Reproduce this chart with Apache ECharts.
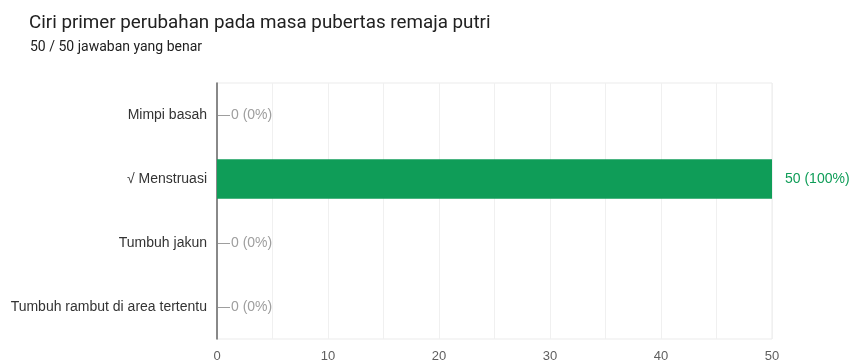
<!DOCTYPE html>
<html>
<head>
<meta charset="utf-8">
<script src="https://cdn.jsdelivr.net/npm/echarts@6/dist/echarts.min.js"></script>
<style>
  html, body { margin: 0; padding: 0; background: #fff; }
  #chart { width: 856px; height: 363px; }
</style>
</head>
<body>
<div id="chart"></div>
<script>
// Answer options and their response counts
const categories = ['Mimpi basah', '\u221A Menstruasi', 'Tumbuh jakun', 'Tumbuh rambut di area tertentu'];
const counts = [0, 50, 0, 0];
const percents = [0, 100, 0, 0];
const totalResponses = 50;
const xTicks = [0, 10, 20, 30, 40, 50];

const GREEN = '#0f9d58';
const TITLE_FONT = 'Roboto, "Liberation Sans", Arial, sans-serif';
const BODY_FONT = '"Liberation Sans", Arial, Helvetica, sans-serif';

const chart = echarts.init(document.getElementById('chart'));

chart.setOption({
  animation: false,
  textStyle: { fontFamily: BODY_FONT },
  title: [
    {
      text: 'Ciri primer perubahan pada masa pubertas remaja putri',
      left: 24, top: 9,
      textStyle: { fontFamily: TITLE_FONT, fontSize: 18.8, fontWeight: 'normal', color: '#212121' }
    },
    {
      text: totalResponses + ' / ' + totalResponses + ' jawaban yang benar',
      left: 25, top: 35,
      textStyle: { fontFamily: TITLE_FONT, fontSize: 14, fontWeight: 'normal', color: '#212121' }
    }
  ],
  grid: {
    left: 217, right: 84, top: 83, bottom: 22,
    show: true, borderColor: '#ebebeb', borderWidth: 1
  },
  xAxis: {
    type: 'value',
    min: xTicks[0],
    max: xTicks[xTicks.length - 1],
    interval: 5,
    axisLine: { show: false },
    axisTick: { show: false },
    splitLine: { show: true, lineStyle: { color: '#f0f0f0', width: 1 } },
    axisLabel: {
      margin: 11,
      color: '#5f5f5f',
      fontSize: 13,
      fontFamily: BODY_FONT,
      formatter: v => (xTicks.indexOf(v) >= 0 ? String(v) : '')
    }
  },
  yAxis: {
    type: 'category',
    data: categories,
    inverse: true,
    axisLine: { show: true, lineStyle: { color: '#666', width: 1.5 } },
    axisTick: { show: false },
    splitLine: { show: false },
    axisLabel: { margin: 10, color: '#333', fontSize: 14, fontFamily: BODY_FONT }
  },
  series: [
    {
      type: 'bar',
      data: counts.map(c => ({
        value: c,
        label: {
          distance: c === 0 ? 14 : 13,
          color: c === 0 ? '#9e9e9e' : GREEN
        }
      })),
      barWidth: '62%',
      itemStyle: { color: GREEN },
      label: {
        show: true,
        position: 'right',
        fontSize: 14,
        fontFamily: BODY_FONT,
        formatter: p => counts[p.dataIndex] + ' (' + percents[p.dataIndex] + '%)'
      },
      z: 3
    },
    {
      // short stub marking options with zero responses
      type: 'custom',
      data: counts.map((c, i) => [c, i]),
      renderItem: (params, api) => {
        if (api.value(0) !== 0) return null;
        const p = api.coord([api.value(0), api.value(1)]);
        return {
          type: 'line',
          shape: { x1: p[0] + 1, y1: p[1] + 0.5, x2: p[0] + 13, y2: p[1] + 0.5 },
          style: { stroke: '#9e9e9e', lineWidth: 1 }
        };
      },
      silent: true,
      z: 4
    }
  ]
});
</script>
</body>
</html>
